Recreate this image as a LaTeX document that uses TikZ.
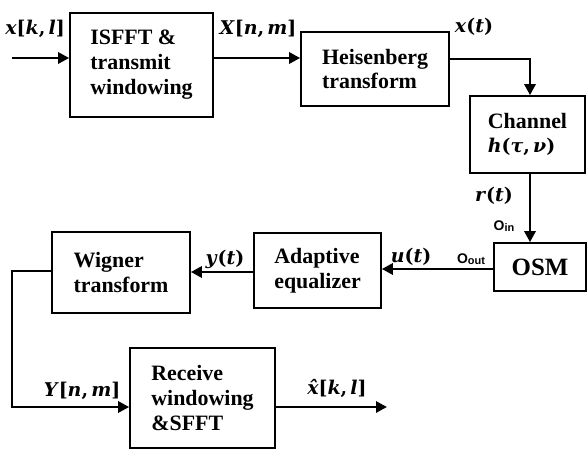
\documentclass[tikz,border=0pt]{standalone}
\usepackage{fontspec}
\setmainfont{Liberation Serif}
\newfontfamily\sansb{Liberation Sans}
\newfontfamily\mathf{DejaVu Serif}
\usetikzlibrary{arrows.meta}
\begin{document}
\begin{tikzpicture}[x=1bp,y=-1bp,
  box/.style={draw, line width=1.6bp, inner sep=0pt, align=left, font=\fontsize{22}{25}\selectfont\bfseries},
  arr/.style={line width=2.8bp, -{Triangle[length=11bp,width=11bp]}},
  lbl/.style={inner sep=0pt, font=\mathf\fontsize{19}{22}\selectfont\bfseries},
  sub/.style={inner sep=0pt, font=\sansb\bfseries\fontsize{14}{14}\selectfont}]
\useasboundingbox (0,0) rectangle (587,450);
\node[box, minimum width=143bp, minimum height=104bp] (isfft) at (141.5,65) {ISFFT \&\\transmit\\windowing};
\node[box, minimum width=148bp, minimum height=74bp] (heis) at (375,69) {Heisenberg\\transform};
\node[box, minimum width=115bp, minimum height=77bp] (chan) at (527.5,134.5) {Channel\\{\mathf\fontsize{19}{22}\selectfont\textit{h}(\textit{τ},\,\textit{ν})}};
\node[box, minimum width=92bp, minimum height=48bp, font=\fontsize{25}{28}\selectfont\bfseries] (osm) at (540,267) {OSM};
\node[box, minimum width=127bp, minimum height=75bp] (adapt) at (317.5,270.5) {Adaptive\\equalizer};
\node[box, minimum width=138bp, minimum height=81bp] (wig) at (121,272.5) {Wigner\\transform};
\node[box, minimum width=145bp, minimum height=100bp] (rx) at (202.5,398) {Receive\\windowing\\\&SFFT};
\coordinate (in) at (12,58);
\coordinate (xt) at (530,59);
\coordinate (wl) at (12,271);
\coordinate (wb) at (12,407);
\coordinate (out) at (387,407);
\coordinate (ua) at ([yshift=-2bp]osm.west);
\coordinate (ya) at ([yshift=-1.5bp]adapt.west);
\draw[arr] (in) -- (in -| isfft.west);
\draw[arr] (in -| isfft.east) -- (in -| heis.west);
\draw[arr] (heis.east |- xt) -- (xt) -- (xt |- chan.north);
\draw[arr] (xt |- chan.south) -- (xt |- osm.north);
\draw[arr] (ua) -- (ua -| adapt.east);
\draw[arr] (ya) -- (ya -| wig.east);
\draw[arr] (wl -| wig.west) -- (wl) -- (wb) -- (wb -| rx.west);
\draw[arr] (wb -| rx.east) -- (out);
\node[lbl] (lx) at (35,29) {\textit{x}[\textit{k},\,\textit{l}]};
\node[lbl] (lX) at (258,29) {\textit{X}[\textit{n},\,\textit{m}]};
\node[lbl] (lxt) at (474,27) {\textit{x}(\textit{t})};
\node[lbl] (lr) at (494,196) {\textit{r}(\textit{t})};
\node[sub] (oin) at (504,226) {O{\fontsize{11}{11}\selectfont\raisebox{-1bp}{in}}};
\node[lbl] (lu) at (411,257) {\textit{u}(\textit{t})};
\node[sub] (oout) at (471,259) {O{\fontsize{11}{11}\selectfont\raisebox{-1bp}{out}}};
\node[lbl] (ly) at (225,259) {\textit{y}(\textit{t})};
\node[lbl] (lY) at (82,391) {\textit{Y}[\textit{n},\,\textit{m}]};
\node[lbl] (lxh) at (337,388) {\textit{x\char"0302}[\textit{k},\,\textit{l}]};
\end{tikzpicture}
\end{document}
